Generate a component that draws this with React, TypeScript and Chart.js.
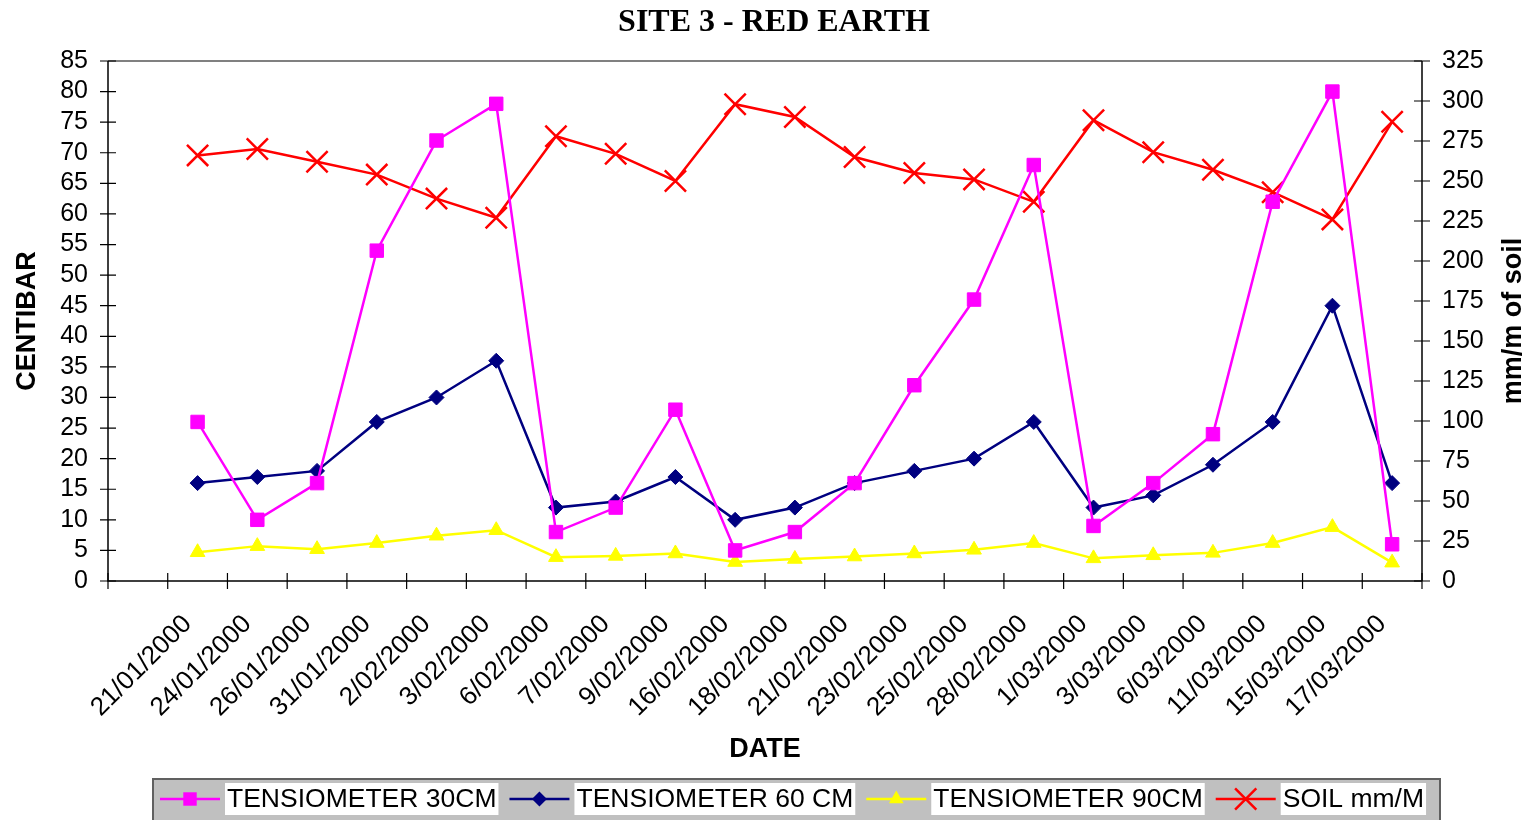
import React, { useEffect, useRef } from 'react';
import { Chart, registerables } from 'chart.js';

Chart.register(...registerables);

const categories = ['', '21/01/2000', '24/01/2000', '26/01/2000', '31/01/2000', '2/02/2000', '3/02/2000', '6/02/2000', '7/02/2000', '9/02/2000', '16/02/2000', '18/02/2000', '21/02/2000', '23/02/2000', '25/02/2000', '28/02/2000', '1/03/2000', '3/03/2000', '6/03/2000', '11/03/2000', '15/03/2000', '17/03/2000'];
const tensiometer30 = [null, 26, 10, 16, 54, 72, 78, 8, 12, 28, 5, 8, 16, 32, 46, 68, 9, 16, 24, 62, 80, 6];
const tensiometer60 = [null, 16, 17, 18, 26, 30, 36, 12, 13, 17, 10, 12, 16, 18, 20, 26, 12, 14, 19, 26, 45, 16];
const tensiometer90 = [null, 4.7, 5.7, 5.2, 6.2, 7.4, 8.3, 3.9, 4.1, 4.5, 3.1, 3.6, 4.0, 4.5, 5.1, 6.2, 3.7, 4.2, 4.6, 6.2, 8.8, 3.0];
const soilMm = [null, 266, 270, 262, 254, 239, 227, 278, 267, 250, 298, 290, 265, 255, 251, 237, 288, 268, 257, 243, 226, 287];

const seriesNames = ['TENSIOMETER 30CM', 'TENSIOMETER 60 CM', 'TENSIOMETER 90CM', 'SOIL mm/M'];
const titleText = 'SITE 3 - RED EARTH';
const xTitle = 'DATE';
const yTitle = 'CENTIBAR';
const y2Title = 'mm/m of soil';

const SANS = '"Liberation Sans", Arial, sans-serif';
const SERIF = '"Liberation Serif", "Times New Roman", serif';

function drawMarker(ctx: CanvasRenderingContext2D, style: string, x: number, y: number, r: number, color: string) {
  ctx.save();
  ctx.fillStyle = color;
  ctx.strokeStyle = color;
  ctx.beginPath();
  if (style === 'rect') {
    const s = Math.SQRT1_2 * r;
    ctx.rect(x - s, y - s, 2 * s, 2 * s);
    ctx.fill();
  } else if (style === 'rectRot') {
    ctx.moveTo(x - r, y);
    ctx.lineTo(x, y - r);
    ctx.lineTo(x + r, y);
    ctx.lineTo(x, y + r);
    ctx.closePath();
    ctx.fill();
  } else if (style === 'triangle') {
    ctx.moveTo(x, y - r);
    ctx.lineTo(x + r * Math.sin(Math.PI * 2 / 3), y + r / 2);
    ctx.lineTo(x - r * Math.sin(Math.PI * 2 / 3), y + r / 2);
    ctx.closePath();
    ctx.fill();
  } else {
    const o = Math.SQRT1_2 * r;
    ctx.lineWidth = 2.5;
    ctx.moveTo(x - o, y - o);
    ctx.lineTo(x + o, y + o);
    ctx.moveTo(x + o, y - o);
    ctx.lineTo(x - o, y + o);
    ctx.stroke();
  }
  ctx.restore();
}

const decorPlugin = {
  id: 'decor',
  beforeDatasetsDraw(chart: any) {
    const ctx = chart.ctx as CanvasRenderingContext2D;
    const { left, right, top, bottom } = chart.chartArea;
    const xs = chart.scales.x;
    const ys = chart.scales.y;
    const y2s = chart.scales.y2;
    ctx.save();
    ctx.strokeStyle = '#808080';
    ctx.lineWidth = 2;
    ctx.beginPath();
    ctx.moveTo(left, top);
    ctx.lineTo(right, top);
    ctx.stroke();
    ctx.strokeStyle = '#000';
    ctx.lineWidth = 1.5;
    ctx.beginPath();
    ctx.moveTo(left, top);
    ctx.lineTo(left, bottom);
    ctx.lineTo(right, bottom);
    ctx.moveTo(right, top);
    ctx.lineTo(right, bottom);
    ctx.stroke();
    ctx.lineWidth = 1.2;
    ctx.beginPath();
    ys.ticks.forEach((t: any) => {
      const p = ys.getPixelForValue(t.value);
      ctx.moveTo(left - 8, p);
      ctx.lineTo(left + 8, p);
    });
    y2s.ticks.forEach((t: any) => {
      const p = y2s.getPixelForValue(t.value);
      ctx.moveTo(right - 8, p);
      ctx.lineTo(right + 8, p);
    });
    const n = categories.length;
    const slot = (xs.getPixelForValue(1) - xs.getPixelForValue(0));
    const start = xs.getPixelForValue(0) - slot / 2;
    for (let i = 0; i <= n; i++) {
      const p = start + i * slot;
      ctx.moveTo(p, bottom - 8);
      ctx.lineTo(p, bottom + 8);
    }
    ctx.stroke();
    ctx.restore();
  },
  afterDraw(chart: any) {
    const ctx = chart.ctx as CanvasRenderingContext2D;
    const { left, right, top, bottom } = chart.chartArea;
    ctx.save();
    ctx.fillStyle = '#000';
    ctx.textAlign = 'center';
    ctx.textBaseline = 'middle';
    ctx.font = `bold 32px ${SERIF}`;
    ctx.fillText(titleText, 774, 23);
    ctx.font = `bold 27px ${SANS}`;
    ctx.fillText(xTitle, (left + right) / 2, 750);
    ctx.save();
    ctx.translate(28, (top + bottom) / 2);
    ctx.rotate(-Math.PI / 2);
    ctx.fillText(yTitle, 0, 0);
    ctx.restore();
    ctx.save();
    ctx.translate(1514, (top + bottom) / 2);
    ctx.rotate(-Math.PI / 2);
    ctx.fillText(y2Title, 0, 0);
    ctx.restore();

    const lx = 153, ly = 779, lw = 1287, lh = 44;
    ctx.fillStyle = '#c0c0c0';
    ctx.fillRect(lx, ly, lw, lh);
    ctx.strokeStyle = '#606060';
    ctx.lineWidth = 2;
    ctx.strokeRect(lx, ly, lw, lh);
    ctx.font = `26.5px ${SANS}`;
    ctx.textAlign = 'left';
    let x = 160;
    const cy = 799;
    chart.data.datasets.forEach((ds: any) => {
      const color = ds.borderColor as string;
      ctx.strokeStyle = color;
      ctx.lineWidth = 2.5;
      ctx.beginPath();
      ctx.moveTo(x, cy);
      ctx.lineTo(x + 60, cy);
      ctx.stroke();
      drawMarker(ctx, ds.pointStyle, x + 30, cy, ds.pointRadius, color);
      const tx = x + 67;
      const w = ctx.measureText(ds.label).width;
      ctx.fillStyle = '#fff';
      ctx.fillRect(tx - 2, 783, w + 4, 32);
      ctx.fillStyle = '#000';
      ctx.fillText(ds.label, tx, cy + 1);
      x = tx + w + 13;
    });
    ctx.restore();
  },
};

export default function App() {
  const ref = useRef<HTMLCanvasElement | null>(null);
  useEffect(() => {
    if (!ref.current) return;
    const chart = new Chart(ref.current, {
      type: 'line',
      data: {
        labels: categories,
        datasets: [
          {
            label: seriesNames[0],
            data: tensiometer30,
            yAxisID: 'y',
            borderColor: '#ff00ff',
            backgroundColor: '#ff00ff',
            pointBackgroundColor: '#ff00ff',
            pointBorderColor: '#ff00ff',
            borderWidth: 2.5,
            pointStyle: 'rect',
            pointRadius: 9.5,
            pointBorderWidth: 1,
          },
          {
            label: seriesNames[1],
            data: tensiometer60,
            yAxisID: 'y',
            borderColor: '#000080',
            backgroundColor: '#000080',
            pointBackgroundColor: '#000080',
            pointBorderColor: '#000080',
            borderWidth: 2.5,
            pointStyle: 'rectRot',
            pointRadius: 7.5,
            pointBorderWidth: 1,
          },
          {
            label: seriesNames[2],
            data: tensiometer90,
            yAxisID: 'y',
            borderColor: '#ffff00',
            backgroundColor: '#ffff00',
            pointBackgroundColor: '#ffff00',
            pointBorderColor: '#ffff00',
            borderWidth: 2.5,
            pointStyle: 'triangle',
            pointRadius: 8.5,
            pointBorderWidth: 1,
          },
          {
            label: seriesNames[3],
            data: soilMm,
            yAxisID: 'y2',
            borderColor: '#ff0000',
            backgroundColor: '#ff0000',
            pointBackgroundColor: '#ff0000',
            pointBorderColor: '#ff0000',
            borderWidth: 2.5,
            pointStyle: 'crossRot',
            pointRadius: 15,
            pointBorderWidth: 2.5,
          },
        ] as any,
      },
      options: {
        animation: false,
        responsive: false,
        layout: { padding: { top: 61, left: 0, right: 0, bottom: 0 } },
        plugins: {
          legend: { display: false },
          title: { display: false },
          tooltip: { enabled: false },
        },
        scales: {
          x: {
            type: 'category',
            offset: true,
            grid: { display: false, drawTicks: false, offset: true },
            border: { display: false },
            ticks: {
              autoSkip: false,
              maxRotation: 45,
              minRotation: 45,
              padding: 28,
              labelOffset: -10,
              color: '#000',
              font: { family: SANS, size: 26 },
            },
            afterFit: (s: any) => { s.height = 239; },
          },
          y: {
            type: 'linear',
            position: 'left',
            min: 0,
            max: 85,
            ticks: { stepSize: 5, autoSkip: false, padding: 20, color: '#000', font: { family: SANS, size: 25 } },
            grid: { display: false, drawTicks: false },
            border: { display: false },
            afterFit: (s: any) => { s.width = 108; },
          },
          y2: {
            type: 'linear',
            position: 'right',
            min: 0,
            max: 325,
            ticks: { stepSize: 25, autoSkip: false, padding: 20, color: '#000', font: { family: SANS, size: 25 } },
            grid: { display: false, drawTicks: false },
            border: { display: false },
            afterFit: (s: any) => { s.width = 110; },
          },
        },
      } as any,
      plugins: [decorPlugin],
    });
    return () => chart.destroy();
  }, []);
  return (
    <div style={{ position: 'absolute', left: 0, top: 0, width: 1532, height: 820, background: '#fff' }}>
      <canvas ref={ref} width={1532} height={820} style={{ display: 'block' }} />
    </div>
  );
}
